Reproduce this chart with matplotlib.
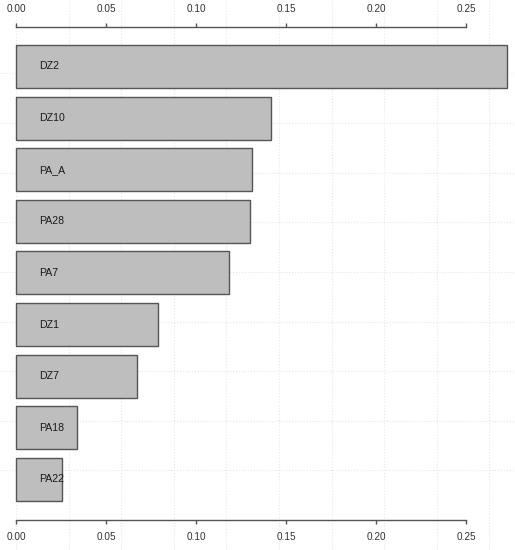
import numpy as np
import matplotlib.pyplot as plt

# data (top to bottom)
labels = ['DZ2', 'DZ10', 'PA_A', 'PA28', 'PA7', 'DZ1', 'DZ7', 'PA18', 'PA22']
values = [0.2728, 0.1417, 0.1310, 0.1300, 0.1183, 0.0789, 0.0672, 0.0339, 0.0256]
ticks = [0.00, 0.05, 0.10, 0.15, 0.20, 0.25]

plt.rcParams['font.family'] = ['Liberation Sans', 'DejaVu Sans']

W, H = 515, 550
fig = plt.figure(figsize=(W / 100, H / 100), dpi=100)
ax = fig.add_axes([0, 0, 1, 1])

# pixel layout of the R barplot
x0, xscale = 16, 1800.0          # px of 0, px per unit
y0, ystep = 66.5, 51.6           # centre of first bar, bar period
ax.set_xlim(-x0 / xscale, (W - x0) / xscale)
ax.set_ylim((H - y0) / ystep, -y0 / ystep)

# faint dotted background grid spanning the whole figure
for k in range(10):
    ax.axvline(k * 52.6 / xscale, color='#e6e6e6', ls=':', lw=0.8, zorder=0)
for k in range(9):
    ax.axhline((73.5 + 49.6 * k - y0) / ystep, color='#e6e6e6', ls=':', lw=0.8, zorder=0)

pos = np.arange(len(labels))
ax.barh(pos, values, height=0.833, color='#bebebe', edgecolor='#555555',
        linewidth=1.0, zorder=2)
for p, lab in zip(pos, labels):
    ax.text(23.5 / xscale, p, lab, ha='left', va='center', fontsize=7.6,
            color='#1a1a1a', zorder=3)

# R-style axes on top and bottom, only spanning the tick range
for side in ['left', 'right']:
    ax.spines[side].set_visible(False)
ax.spines['top'].set_position(('data', (27 - y0) / ystep))
ax.spines['bottom'].set_position(('data', (520 - y0) / ystep))
for side in ['top', 'bottom']:
    ax.spines[side].set_bounds(0, 0.25)
    ax.spines[side].set_color('#555555')
    ax.spines[side].set_linewidth(1.0)

ax.set_xticks(ticks)
ax.set_xticklabels(['%.2f' % t for t in ticks])
ax.tick_params(axis='x', top=True, labeltop=True, bottom=True, labelbottom=True,
               direction='out', length=3, width=1.0, color='#555555',
               labelsize=7.2, labelcolor='#333333', pad=6)
ax.set_yticks([])

fig.savefig('out.png', dpi=100)
